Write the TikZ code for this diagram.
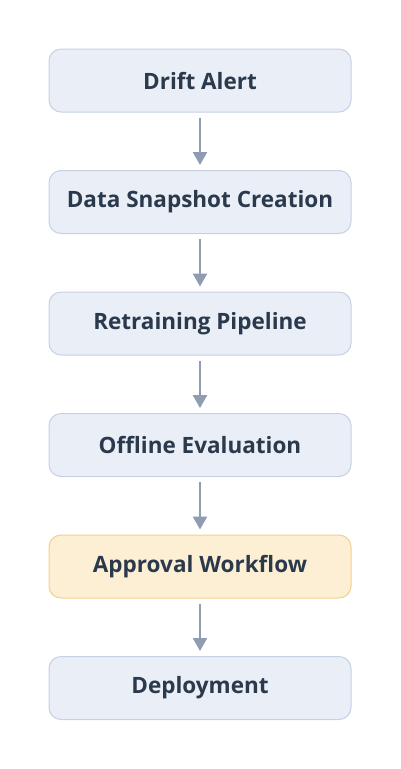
\documentclass[tikz,border=0pt]{standalone}
\usepackage{fontspec}
\setmainfont{Open Sans}
\usetikzlibrary{arrows.meta}
\definecolor{boxfill}{HTML}{E9EEF7}
\definecolor{boxline}{HTML}{C6D1E4}
\definecolor{hifill}{HTML}{FDEFD4}
\definecolor{hiline}{HTML}{F4D08F}
\definecolor{txt}{HTML}{2B394C}
\definecolor{arr}{HTML}{8F9CB1}
\begin{document}
\begin{tikzpicture}[x=1pt,y=-1pt,
  stepbox/.style={draw=boxline,fill=boxfill,line width=1pt,rounded corners=12pt,
    minimum width=302pt,minimum height=63pt,text=txt,
    font=\fontsize{22.5}{26}\selectfont\bfseries},
  hibox/.style={stepbox,draw=hiline,fill=hifill},
  flow/.style={draw=arr,line width=2.6pt,-{Triangle[length=13pt,width=14pt]},shorten <=5pt,shorten >=5pt}]
\useasboundingbox (0,0) rectangle (400,769);
\node[stepbox] (a) at (200,80.5) {Drift Alert};
\node[stepbox] (b) at (200,202) {Data Snapshot Creation};
\node[stepbox] (c) at (200,323.5) {Retraining Pipeline};
\node[stepbox] (d) at (200,445) {Offline Evaluation};
\node[hibox] (e) at (200,566.5) {Approval Workflow};
\node[stepbox] (f) at (200,688) {Deployment};
\draw[flow] (a) -- (b);
\draw[flow] (b) -- (c);
\draw[flow] (c) -- (d);
\draw[flow] (d) -- (e);
\draw[flow] (e) -- (f);
\end{tikzpicture}
\end{document}
